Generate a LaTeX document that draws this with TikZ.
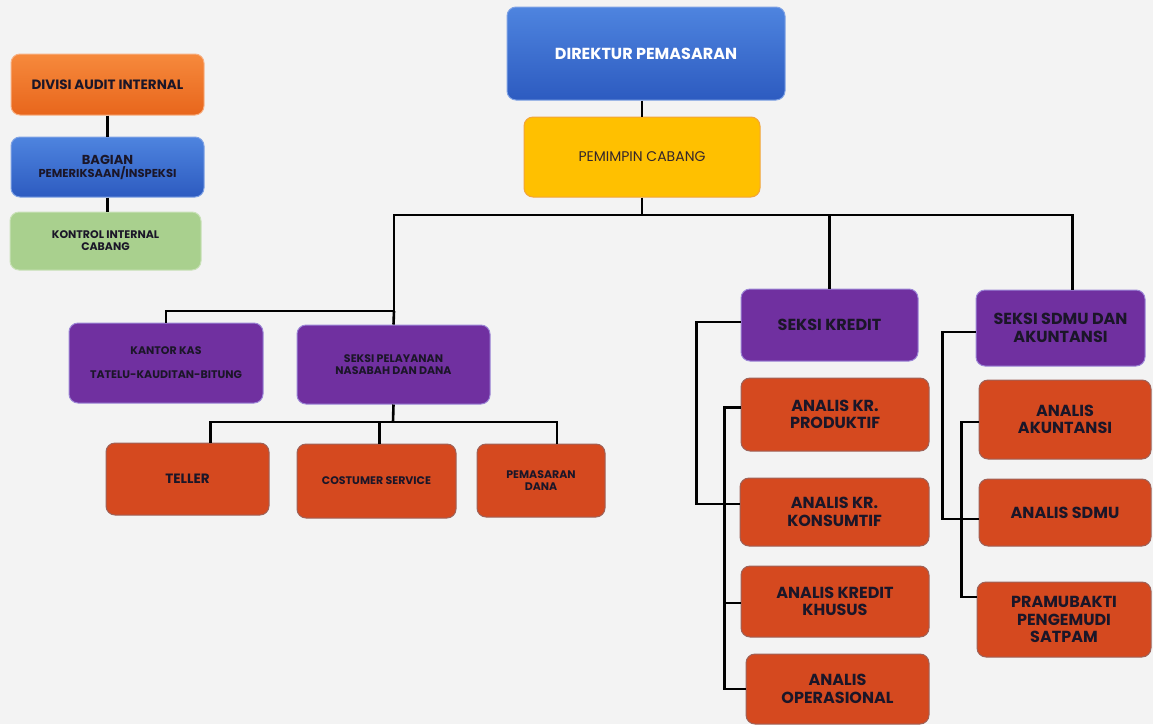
\documentclass[tikz,border=0pt]{standalone}
\usepackage{fontspec}
\setmainfont{Poppins}
\definecolor{bg}{HTML}{F3F3F3}
\definecolor{ink}{HTML}{1B1628}
\definecolor{blueT}{HTML}{4E84DF}
\definecolor{blueB}{HTML}{2D5BC0}
\definecolor{blueE}{HTML}{7FA2E4}
\definecolor{orT}{HTML}{F6893C}
\definecolor{orB}{HTML}{E8661C}
\definecolor{orE}{HTML}{F7B083}
\definecolor{gold}{HTML}{FFC000}
\definecolor{goldE}{HTML}{F2A43A}
\definecolor{green}{HTML}{A9D08E}
\definecolor{greenE}{HTML}{C9E1B8}
\definecolor{purp}{HTML}{7030A0}
\definecolor{purpE}{HTML}{9C86D6}
\definecolor{red}{HTML}{D5491F}
\definecolor{redE}{HTML}{9E6258}
\begin{document}
\begin{tikzpicture}[x=1pt,y=-1pt,
  box/.style={rectangle, rounded corners=9pt, line width=1pt, align=center,
    inner sep=2pt, text=ink},
  big/.style={font=\bfseries\fontsize{16}{17.5}\selectfont},
  mid/.style={font=\bfseries\fontsize{13.5}{14.5}\selectfont},
  small/.style={font=\bfseries\fontsize{11}{12}\selectfont},
  bluebox/.style={box, draw=blueE, top color=blueT, bottom color=blueB},
  orbox/.style={box, draw=orE, top color=orT, bottom color=orB},
  goldbox/.style={box, draw=goldE, fill=gold},
  greenbox/.style={box, draw=greenE, fill=green},
  purpbox/.style={box, draw=purpE, fill=purp},
  redbox/.style={box, draw=redE, fill=red},
  conn/.style={draw=black, line width=2.6pt}]

% canvas
\fill[bg] (0,0) rectangle (1153,724);
\useasboundingbox (0,0) rectangle (1153,724);

% top of the hierarchy
\node[bluebox, big, text=white, minimum width=278pt, minimum height=93pt] (dir) at (646,53.5) {DIREKTUR PEMASARAN};
\node[goldbox, minimum width=236pt, minimum height=80pt, text=ink!85!brown, font=\fontsize{14}{15}\selectfont] (pim) at (642,157) {PEMIMPIN CABANG};

% internal audit chain
\node[orbox, mid, minimum width=193pt, minimum height=61pt] (div) at (107.5,84.5) {DIVISI AUDIT INTERNAL};
\node[bluebox, minimum width=193pt, minimum height=60pt, font=\bfseries\fontsize{13}{14}\selectfont] (bag) at (107.5,167) {BAGIAN\\[-1pt]{\fontsize{11.5}{12.5}\selectfont PEMERIKSAAN/INSPEKSI}};
\node[greenbox, small, minimum width=191pt, minimum height=58pt] (kon) at (105.5,241) {KONTROL INTERNAL\\CABANG};

% left branch
\node[purpbox, small, minimum width=194pt, minimum height=80pt] (kas) at (166,363) {KANTOR KAS\\[12pt]TATELU-KAUDITAN-BITUNG};
\node[purpbox, small, minimum width=193pt, minimum height=79pt] (pel) at (393.5,364.5) {SEKSI PELAYANAN\\NASABAH DAN DANA};
\node[redbox, mid, minimum width=163pt, minimum height=72pt] (tel) at (187.5,479) {TELLER};
\node[redbox, small, minimum width=159pt, minimum height=74pt] (cs) at (376.5,481) {COSTUMER SERVICE};
\node[redbox, small, minimum width=128pt, minimum height=73pt] (pd) at (541,480.5) {PEMASARAN\\DANA};

% credit section
\node[purpbox, big, minimum width=177pt, minimum height=72pt] (kre) at (829.5,325) {SEKSI KREDIT};
\node[redbox, big, minimum width=188pt, minimum height=73pt] (pro) at (835,414.5) {ANALIS KR.\\PRODUKTIF};
\node[redbox, big, minimum width=189pt, minimum height=68pt] (kons) at (834.5,512) {ANALIS KR.\\KONSUMTIF};
\node[redbox, big, minimum width=188pt, minimum height=71pt] (khu) at (835,601.5) {ANALIS KREDIT\\KHUSUS};
\node[redbox, big, minimum width=183pt, minimum height=70pt] (ops) at (837.5,689) {ANALIS\\OPERASIONAL};

% HR and accounting section
\node[purpbox, big, minimum width=169pt, minimum height=76pt] (sdmu) at (1060.5,328) {SEKSI SDMU DAN\\AKUNTANSI};
\node[redbox, big, minimum width=172pt, minimum height=79pt] (akun) at (1065,419.5) {ANALIS\\AKUNTANSI};
\node[redbox, big, minimum width=172pt, minimum height=67pt] (asdmu) at (1065,512.5) {ANALIS SDMU};
\node[redbox, big, minimum width=174pt, minimum height=75pt] (pram) at (1064,619.5) {PRAMUBAKTI\\PENGEMUDI\\SATPAM};

% junction points of the bus lines
\coordinate (bus) at (642,215);
\coordinate (j1) at (394,311);
\coordinate (j2) at (393,422);

% connectors
\draw[conn] (pim.north |- dir.south) -- (pim.north);
\draw[conn] (pim.south) -- (bus);
\draw[conn] (j1) |- (bus) -| (kre.north);
\draw[conn] (bus) -| ([xshift=12pt]sdmu.north);
\draw[conn] (j1) -- (pel.north);
\draw[conn] (j1) -| (kas.north);

\draw[conn] (pel.south) -- (j2);
\draw[conn] ([xshift=23pt]tel.north) |- (j2) -| ([xshift=16pt]pd.north);
\draw[conn] ([xshift=3pt]cs.north) |- (j2);

\draw[conn] (div.south) -- (bag.north);
\draw[conn] (bag.south) -- (bag.south |- kon.north);

\draw[conn] ([yshift=3pt]kre.west) -- ++(-44,0) |- ([yshift=8pt]kons.west);
\draw[conn] ([yshift=7pt]pro.west) -- ++(-16,0) |- (ops.west);
\draw[conn] ([yshift=-1.5pt]khu.west) -- ++(-16,0);

\draw[conn] ([yshift=-4pt]sdmu.west) -- ++(-33,0) |- ([yshift=-6.5pt]asdmu.west);
\draw[conn] ([yshift=-2.5pt]akun.west) -- ++(-17,0) |- ([yshift=22.5pt]pram.west);
\end{tikzpicture}
\end{document}
